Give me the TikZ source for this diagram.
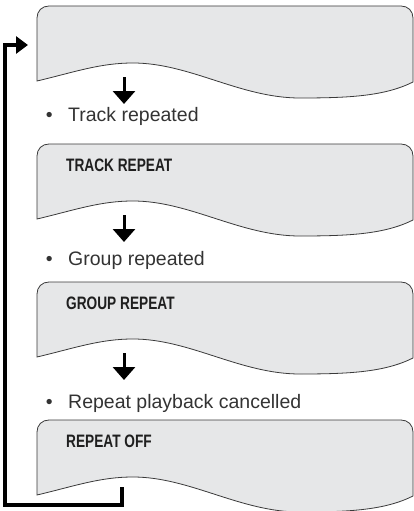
\documentclass[tikz,border=0pt]{standalone}
\usepackage{fontspec}
\setmainfont{Liberation Sans}
\newfontfamily\condfont[FakeStretch=0.76]{Liberation Sans}
\usetikzlibrary{arrows.meta}
\definecolor{boxfill}{HTML}{E6E7E8}
\definecolor{boxline}{HTML}{3A3A3A}
\definecolor{txtgrey}{HTML}{333333}
\tikzset{
  screen/.style={fill=boxfill, draw=boxline, line width=0.8pt},
  disptext/.style={anchor=base west, inner sep=0pt, font=\condfont\bfseries\fontsize{18}{18}\selectfont, text=black!88},
  bullettext/.style={anchor=base west, inner sep=0pt, font=\fontsize{19.5}{20}\selectfont, text=txtgrey},
  flowarrow/.style={line width=3pt, -{Triangle[width=22pt,length=13pt]}},
  looparrow/.style={line width=3.5pt, line join=miter, -{Triangle[width=17pt,length=12pt]}},
}
\newcommand\screenbox[1]{%
  \path[screen] (37,#1+75) -- (37,#1+12) .. controls (37,#1+5) and (42,#1) .. (49,#1)
    -- (401,#1) .. controls (408,#1) and (413,#1+5) .. (413,#1+12)
    -- (413,#1+76) .. controls (385,#1+90) and (350,#1+92) .. (300,#1+92)
    .. controls (240,#1+92) and (190,#1+57) .. (133,#1+57)
    .. controls (100,#1+57) and (75,#1+66) .. (37,#1+75) -- cycle;
}
\begin{document}
\begin{tikzpicture}[x=1pt,y=-1pt]
\useasboundingbox (0,0) rectangle (414,511);
% screens
\screenbox{6}
\screenbox{144}
\screenbox{282}
\screenbox{420}
\node[disptext] (d2) at (66,171) {TRACK REPEAT};
\node[disptext] (d3) at (66,309) {GROUP REPEAT};
\node[disptext] (d4) at (66,447) {REPEAT OFF};
% bullet texts
\node[bullettext] (t1) at (45.6,121) {\makebox[22.4pt][l]{•}Track repeated};
\node[bullettext] (t2) at (45.6,265) {\makebox[22.4pt][l]{•}Group repeated};
\node[bullettext] (t3) at (45.6,408) {\makebox[22.4pt][l]{•}Repeat playback cancelled};
% arrow coordinates
\coordinate (a1s) at (124,77);  \coordinate (a1e) at (124,104);
\coordinate (a2s) at (124,215); \coordinate (a2e) at (124,242);
\coordinate (a3s) at (124,353); \coordinate (a3e) at (124,380);
\draw[flowarrow] (a1s) -- (a1e);
\draw[flowarrow] (a2s) -- (a2e);
\draw[flowarrow] (a3s) -- (a3e);
% loop back
\coordinate (ls) at (122,487);
\coordinate (lb) at (122,505);
\coordinate (lc) at (5,505);
\coordinate (ld) at (5,45);
\coordinate (le) at (28,45);
\draw[looparrow] (ls) -- (lb) -- (lc) -- (ld) -- (le);
\end{tikzpicture}
\end{document}
